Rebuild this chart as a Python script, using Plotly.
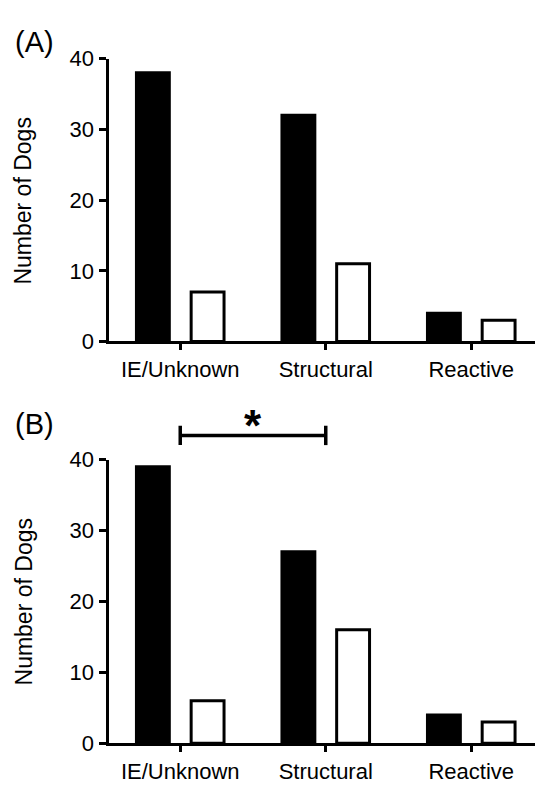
import plotly.graph_objects as go

categories = ["IE/Unknown", "Structural", "Reactive"]
panel_a_black = [38, 32, 4]
panel_a_white = [7, 11, 3]
panel_b_black = [39, 27, 4]
panel_b_white = [6, 16, 3]
y_ticks = [0, 10, 20, 30, 40]
y_title = "Number of Dogs"
panel_labels = ["(A)", "(B)"]
sig_text = "*"

W, H = 543, 790
OFF = 8  # page body margin offset
FONT = "Liberation Sans, Arial, Helvetica, sans-serif"

def px_x(p):
    return (p - OFF) / W

def px_y(p):
    return 1 - (p - OFF) / H

fig = go.Figure()

BAR_W = 0.226
for ax, blk, wht in [("", panel_a_black, panel_a_white), ("2", panel_b_black, panel_b_white)]:
    fig.add_trace(go.Bar(
        x=categories, y=blk, width=BAR_W, offset=-0.301,
        marker=dict(color="black", line=dict(color="black", width=3)),
        xaxis="x" + ax, yaxis="y" + ax, showlegend=False, hoverinfo="skip"))
    fig.add_trace(go.Bar(
        x=categories, y=wht, width=BAR_W, offset=0.075,
        marker=dict(color="white", line=dict(color="black", width=3)),
        xaxis="x" + ax, yaxis="y" + ax, showlegend=False, hoverinfo="skip"))

xdom = [px_x(108.5), 1]
xcommon = dict(
    type="category", categoryorder="array", categoryarray=categories,
    range=[-0.493, 2.548], domain=xdom,
    showline=True, linecolor="black", linewidth=3,
    ticks="outside", ticklen=6, tickwidth=3, tickcolor="black",
    tickfont=dict(family=FONT, size=22, color="black"),
    showgrid=False, zeroline=False, fixedrange=True)
ycommon = dict(
    range=[0, 40], tickvals=y_ticks,
    showline=True, linecolor="black", linewidth=3,
    ticks="outside", ticklen=7, tickwidth=3, tickcolor="black",
    tickfont=dict(family=FONT, size=22, color="black"),
    showgrid=False, zeroline=False, fixedrange=True)

fig.update_layout(
    width=W, height=H,
    margin=dict(l=0, r=0, t=0, b=0),
    paper_bgcolor="white", plot_bgcolor="white",
    barmode="overlay",
    xaxis=dict(**xcommon, anchor="y"),
    yaxis=dict(**ycommon, domain=[px_y(340), px_y(48)], anchor="x"),
    xaxis2=dict(**xcommon, anchor="y2"),
    yaxis2=dict(**ycommon, domain=[px_y(755), px_y(462)], anchor="x2"),
)

annotations = []
# y-axis titles
for yc in [195, 609]:
    annotations.append(dict(
        text=y_title, xref="paper", yref="paper", x=px_x(23.5), y=px_y(yc),
        xanchor="center", yanchor="middle", textangle=-90, showarrow=False,
        font=dict(family=FONT, size=23, color="black")))
# panel labels
for lab, yc in zip(panel_labels, [31, 425]):
    annotations.append(dict(
        text=lab, xref="paper", yref="paper", x=px_x(13), y=px_y(yc),
        xanchor="left", yanchor="middle", showarrow=False,
        font=dict(family=FONT, size=29, color="black")))
# significance star
annotations.append(dict(
    text="<b>" + sig_text + "</b>", xref="x2", yref="paper", x=0.5, y=px_y(427),
    xanchor="center", yanchor="middle", showarrow=False,
    font=dict(family=FONT, size=44, color="black")))
fig.update_layout(annotations=annotations)

# significance bracket
yb = px_y(437)
shapes = [
    dict(type="line", xref="x2", yref="paper", x0=0, x1=1, y0=yb, y1=yb,
         line=dict(color="black", width=3.5)),
    dict(type="line", xref="x2", yref="paper", x0=0, x1=0, y0=px_y(427), y1=px_y(447),
         line=dict(color="black", width=3.5)),
    dict(type="line", xref="x2", yref="paper", x0=1, x1=1, y0=px_y(427), y1=px_y(447),
         line=dict(color="black", width=3.5)),
]
fig.update_layout(shapes=shapes)

fig.write_html("out.html")
